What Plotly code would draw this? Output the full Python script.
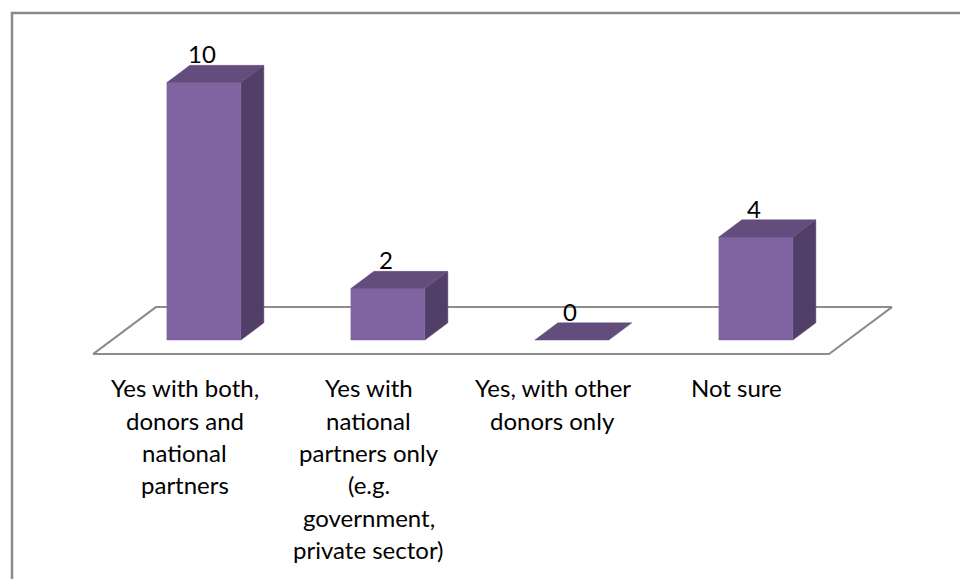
import plotly.graph_objects as go

# Survey responses
categories = [
    ["Yes with both,", "donors and", "national", "partners"],
    ["Yes with", "national", "partners only", "(e.g.", "government,", "private sector)"],
    ["Yes, with other", "donors only"],
    ["Not sure"],
]
values = [10, 2, 0, 4]

# Pseudo-3D geometry (x in category slots, y in value units)
DEPTH_DX, DEPTH_DY = 0.342, 1.825      # floor depth vector
BAR_START = 0.30                       # bar front position along floor depth
BAR_DEPTH = 0.365                      # bar depth as fraction of floor depth
HALF_W = 0.201                         # half width of a bar's front face

FRONT_C = "#8064A2"
TOP_C = "#634D7D"
SIDE_C = "#523F68"
FONT = "Lato"
FONT_SIZE = 24

fig = go.Figure()

# Floor
fy = -BAR_START * DEPTH_DY
n = len(values)
floor_x = [-0.5, n - 0.5, n - 0.5 + DEPTH_DX, -0.5 + DEPTH_DX, -0.5]
floor_y = [fy, fy, fy + DEPTH_DY, fy + DEPTH_DY, fy]
fig.add_trace(go.Scatter(x=floor_x, y=floor_y, mode="lines", fill="toself",
                         fillcolor="white", line=dict(color="#8c8c8c", width=2),
                         hoverinfo="skip", showlegend=False))

bdx = BAR_DEPTH * DEPTH_DX
bdy = BAR_DEPTH * DEPTH_DY
shift = BAR_START * DEPTH_DX

def poly(xs, ys, color):
    fig.add_trace(go.Scatter(x=xs + [xs[0]], y=ys + [ys[0]], mode="lines",
                             fill="toself", fillcolor=color,
                             line=dict(color=color, width=0.5),
                             hoverinfo="skip", showlegend=False))

for i, v in enumerate(values):
    L = i + shift - HALF_W
    R = i + shift + HALF_W
    if v > 0:
        poly([R, R, R + bdx, R + bdx], [0, v, v + bdy, bdy], SIDE_C)
        poly([L, R, R, L], [0, 0, v, v], FRONT_C)
    poly([L, R, R + bdx, L + bdx], [v, v, v + bdy, v + bdy], TOP_C)
    fig.add_annotation(x=i + shift - 0.008, y=v + bdy, text=str(v),
                       showarrow=False, xanchor="center", yanchor="bottom",
                       yshift=-5, font=dict(family=FONT, size=FONT_SIZE, color="black"))

# Category labels, one line at a time
LABEL_Y = -1.86
LINE_PX = 32.3
for i, lines in enumerate(categories):
    for k, line in enumerate(lines):
        fig.add_annotation(x=i, y=LABEL_Y, text=line, showarrow=False,
                           xanchor="center", yanchor="middle",
                           yshift=-k * LINE_PX,
                           font=dict(family=FONT, size=FONT_SIZE, color="black"))

# Chart frame
fig.add_shape(type="rect", xref="paper", yref="paper",
              x0=12 / 960, x1=1.02, y0=-0.02, y1=1 - 13 / 579,
              line=dict(color="#8a8a8a", width=2.5), layer="below")

fig.update_layout(
    width=960, height=579,
    margin=dict(l=0, r=0, t=0, b=0),
    paper_bgcolor="white", plot_bgcolor="rgba(0,0,0,0)",
    xaxis=dict(range=[-1.0054, 4.212], visible=False, fixedrange=True),
    yaxis=dict(range=[-9.281, 13.204], visible=False, fixedrange=True),
    showlegend=False,
)

fig.write_html("out.html")
